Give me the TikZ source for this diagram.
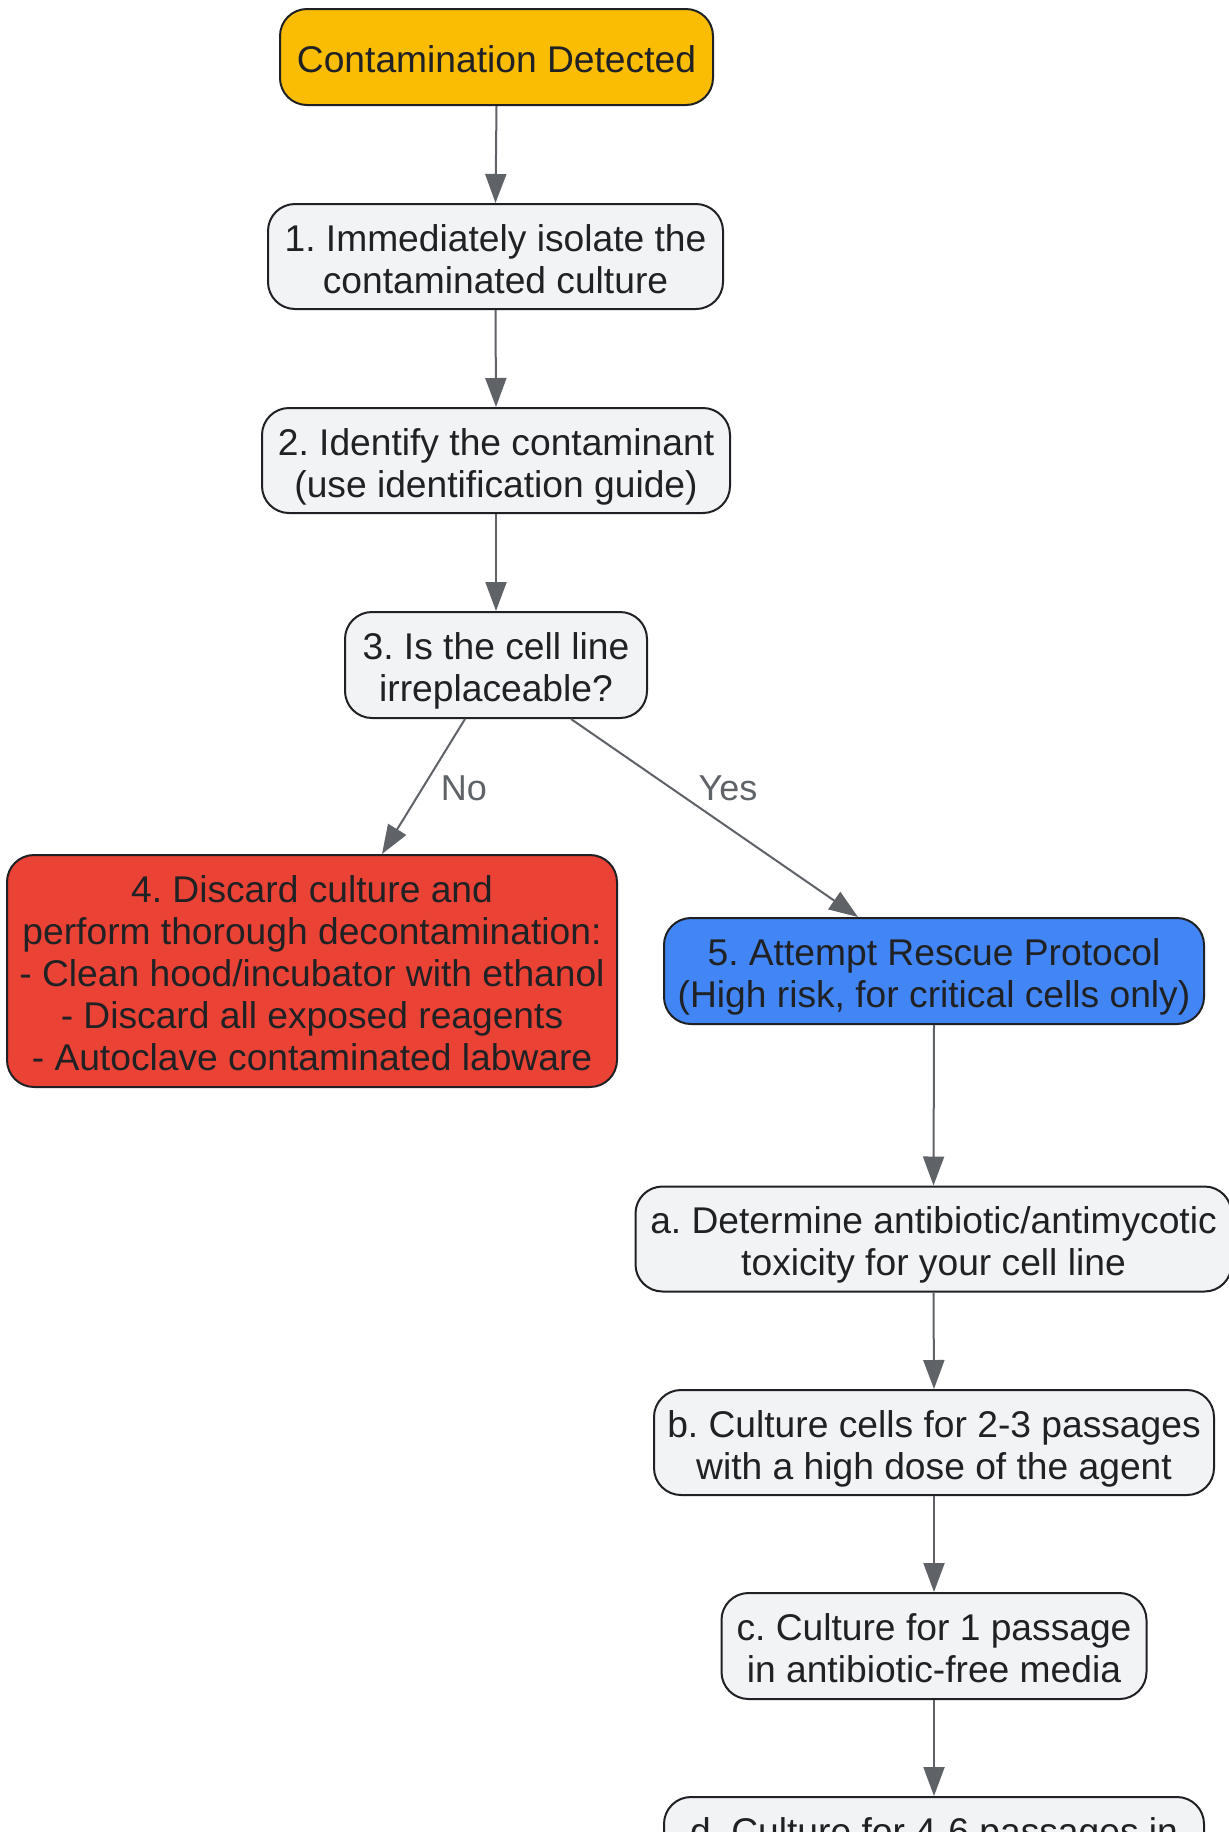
\documentclass[tikz,border=0pt]{standalone}
\usepackage{fontspec}
\setmainfont{Liberation Sans}
\usetikzlibrary{arrows.meta}
\definecolor{txt}{HTML}{202124}
\definecolor{edgegray}{HTML}{5F6368}
\definecolor{boxgray}{HTML}{F1F3F4}
\definecolor{gyellow}{HTML}{FBBC04}
\definecolor{gred}{HTML}{EA4335}
\definecolor{gblue}{HTML}{4285F4}
\newcommand\boxlines[1]{\raisebox{-7.5pt}[\height][\depth]{\begin{tabular}{@{}c@{}}#1\end{tabular}}}
\tikzset{
  box/.style={draw=txt, line width=2pt, rounded corners=27pt, fill=boxgray,
    text=txt, inner sep=0pt,
    font={\fontsize{37.2}{42}\selectfont\frenchspacing}},
  flow/.style={draw=edgegray, line width=2pt,
    -{Triangle[length=29pt,width=21pt]}, color=edgegray},
  elabel/.style={text=edgegray, inner sep=0pt, font={\fontsize{36}{42}\selectfont}}
}
\begin{document}
\begin{tikzpicture}[x=1pt,y=-1pt]
\useasboundingbox (0,0) rectangle (1229,1832);
\clip (0,0) rectangle (1229,1832);
\fill[white] (0,0) rectangle (1229,1832);

\node[box, fill=gyellow, minimum width=433pt, minimum height=96pt] (top) at (496.5,57) {\boxlines{Contamination Detected}};
\node[box, minimum width=455pt, minimum height=105pt] (n1) at (495.5,256.5) {\boxlines{1. Immediately isolate the\\contaminated culture}};
\node[box, minimum width=468pt, minimum height=105pt] (n2) at (496,460.5) {\boxlines{2. Identify the contaminant\\(use identification guide)}};
\node[box, minimum width=302pt, minimum height=106pt] (n3) at (496,665) {\boxlines{3. Is the cell line\\irreplaceable?}};
\node[box, fill=gred, minimum width=610pt, minimum height=232pt] (n4) at (312,971) {\boxlines{4. Discard culture and\\perform thorough decontamination:\\- Clean hood/incubator with ethanol\\- Discard all exposed reagents\\- Autoclave contaminated labware}};
\node[box, fill=gblue, minimum width=540pt, minimum height=106pt] (n5) at (934,971) {\boxlines{5. Attempt Rescue Protocol\\(High risk, for critical cells only)}};
\node[box, minimum width=596pt, minimum height=105pt] (na) at (933.5,1239) {\boxlines{a. Determine antibiotic/antimycotic\\toxicity for your cell line}};
\node[box, minimum width=560pt, minimum height=105pt] (nb) at (934,1442.5) {\boxlines{b. Culture cells for 2-3 passages\\with a high dose of the agent}};
\node[box, minimum width=425pt, minimum height=106pt] (nc) at (934,1646) {\boxlines{c. Culture for 1 passage\\in antibiotic-free media}};
\node[box, minimum width=540pt, minimum height=105pt] (nd) at (934,1849.5) {\boxlines{d. Culture for 4-6 passages in\\\phantom{x}}};

\draw[flow] (top.south) -- (n1.north);
\draw[flow] (n1.south) -- (n2.north);
\draw[flow] (n2.south) -- (n3.north);
\draw[flow] ([xshift=-31pt]n3.south) -- ([xshift=70pt]n4.north);
\node[elabel] (lno) at (464,788) {No};
\draw[flow] ([xshift=75pt]n3.south) -- ([xshift=-76pt]n5.north);
\node[elabel] (lyes) at (728,788) {Yes};
\draw[flow] (n5.south) -- (na.north);
\draw[flow] (na.south) -- (nb.north);
\draw[flow] (nb.south) -- (nc.north);
\draw[flow] (nc.south) -- (nd.north);
\end{tikzpicture}
\end{document}
